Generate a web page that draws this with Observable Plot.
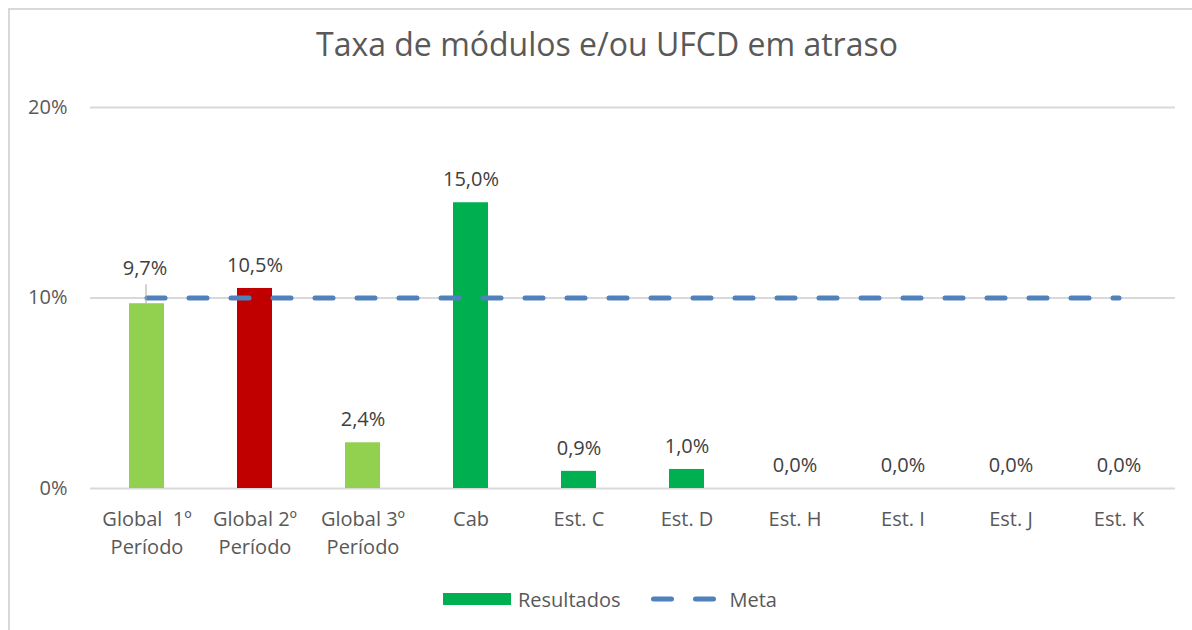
<!DOCTYPE html>
<html><head><meta charset="utf-8">
<script src="https://cdn.jsdelivr.net/npm/d3@7"></script>
<script src="https://cdn.jsdelivr.net/npm/@observablehq/plot@0.6"></script>
<style>
body{margin:0;background:#fff;font-family:"Open Sans",sans-serif;color:#595959}
#wrap{position:relative;width:1192px;height:630px;overflow:hidden;background:#fff}
#frame{position:absolute;left:8px;top:8px;width:1300px;height:700px;border:2px solid #d9d9d9;box-sizing:border-box}
#title{position:absolute;left:9px;width:1196px;top:24px;text-align:center;font-size:32px;line-height:40px;color:#595959;white-space:nowrap}
#chart{position:absolute;left:0;top:90px}
#legend{position:absolute;top:586px;left:443px;height:26px;display:flex;align-items:center;font-size:20px;color:#595959;white-space:nowrap}
#legend .sw{display:inline-block;width:68px;height:12px;margin-right:7px}
#legend svg{display:block}
</style>
</head><body>
<div id="wrap">
  <div id="frame"></div>
  <div id="title">Taxa de módulos e/ou UFCD em atraso</div>
  <div id="chart"></div>
  <div id="legend"></div>
</div>
<script>
const categorias = ["Global\u00a0\u00a01º\nPeríodo","Global 2º\nPeríodo","Global 3º\nPeríodo","Cab","Est. C","Est. D","Est. H","Est. I","Est. J","Est. K"];
const resultados = [0.097, 0.105, 0.024, 0.150, 0.009, 0.010, 0.000, 0.000, 0.000, 0.000];
const meta = [0.10, 0.10, 0.10, 0.10, 0.10, 0.10, 0.10, 0.10, 0.10, 0.10];
const tipo = ["Global abaixo da meta","Global acima da meta","Global abaixo da meta","Resultados","Resultados","Resultados","Resultados","Resultados","Resultados","Resultados"];
const yTicks = [0, 0.1, 0.2];
const yTickLabels = ["0%", "10%", "20%"];
const series = ["Resultados", "Meta"];

const dados = categorias.map((c, i) => ({categoria: c, resultado: resultados[i], meta: meta[i], tipo: tipo[i]}));
const fmt = d => (d.resultado * 100).toFixed(1).replace(".", ",") + "%";
// label that would sit on top of the Meta line is lifted and gets a leader line
const deslocado = d => d.resultado < d.meta && d.resultado + 0.015 > d.meta;
const normais = dados.filter(d => !deslocado(d));
const movidos = dados.filter(deslocado);

const chart = Plot.plot({
  width: 1192, height: 480,
  marginTop: 17, marginBottom: 82, marginLeft: 90, marginRight: 17,
  style: {fontFamily: '"Open Sans", sans-serif', fontSize: "20px", color: "#595959", background: "transparent", overflow: "visible"},
  x: {domain: categorias, paddingInner: 0.68, paddingOuter: 0.34, label: null},
  y: {domain: [0, 0.2], label: null},
  color: {domain: ["Global abaixo da meta", "Global acima da meta", "Resultados"], range: ["#92d050", "#c00000", "#00b050"]},
  marks: [
    Plot.gridY(yTicks, {stroke: "#d9d9d9", strokeOpacity: 1, strokeWidth: 2}),
    Plot.axisY(yTicks, {tickSize: 0, tickPadding: 23, tickFormat: d => yTickLabels[yTicks.indexOf(d)], label: null}),
    Plot.axisX({tickSize: 0, tickPadding: 18, lineHeight: 1.4, label: null}),
    Plot.barY(dados, {x: "categoria", y: "resultado", fill: "tipo"}),
    Plot.lineY(dados, {x: "categoria", y: "meta", stroke: "#4f81bd", strokeWidth: 5, strokeDasharray: "18,24", strokeLinecap: "round"}),
    Plot.ruleX(movidos, {x: "categoria", y1: "resultado", y2: "resultado", insetTop: -19, stroke: "#a6a6a6", strokeWidth: 1, dx: -1}),
    Plot.text(normais, {x: "categoria", y: "resultado", text: fmt, dy: -23, fill: "#404040"}),
    Plot.text(movidos, {x: "categoria", y: "resultado", text: fmt, dy: -35, dx: -2, fill: "#404040"})
  ]
});
document.getElementById("chart").appendChild(chart);

// legend
const leg = document.getElementById("legend");
const sw = document.createElement("span");
sw.className = "sw"; sw.style.background = "#00b050";
leg.appendChild(sw);
const t1 = document.createElement("span"); t1.textContent = series[0]; t1.style.marginRight = "31px";
leg.appendChild(t1);
const svgns = "http://www.w3.org/2000/svg";
const ls = document.createElementNS(svgns, "svg");
ls.setAttribute("width", 66); ls.setAttribute("height", 12);
const ln = document.createElementNS(svgns, "line");
ln.setAttribute("x1", 2.5); ln.setAttribute("x2", 63); ln.setAttribute("y1", 6); ln.setAttribute("y2", 6);
ln.setAttribute("stroke", "#4f81bd"); ln.setAttribute("stroke-width", 5);
ln.setAttribute("stroke-dasharray", "18,24"); ln.setAttribute("stroke-linecap", "round");
ls.appendChild(ln); leg.appendChild(ls);
const t2 = document.createElement("span"); t2.textContent = series[1]; t2.style.marginLeft = "12px";
leg.appendChild(t2);
</script>
</body></html>
